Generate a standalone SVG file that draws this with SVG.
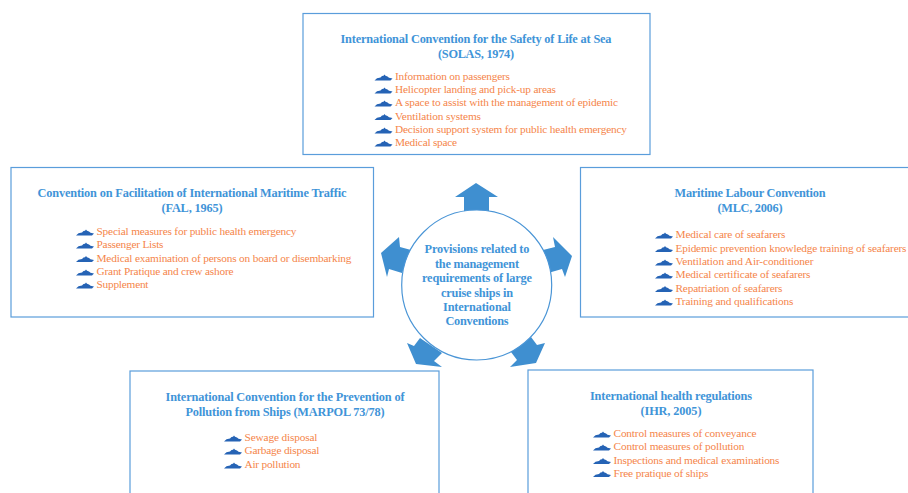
<svg xmlns="http://www.w3.org/2000/svg" width="908" height="493" viewBox="0 0 908 493">
<style>
text{font-family:"Liberation Serif","Times New Roman",serif}
.box{fill:#fff;stroke:#5a9ddb;stroke-width:1.2}
.t{font-size:12.3px;font-weight:bold;fill:#3f94d8;text-anchor:middle}
.i{font-size:11.3px;fill:#f5854a}
.arrow{fill:#3f8fd0}
.hub{fill:#fff;stroke:#4a95d6;stroke-width:1.2}
.ship{fill:#2563b5}
</style>
<defs>
<path id="ship" class="ship" d="M0 0.4L2.5 -1.8L6 -2.5L7.5 -4L9 -4.2L10 -5.6L11 -4.2L13 -3.4L14.5 -2.2L18 -1.4L16 0.5Z"/>
</defs>
<rect width="908" height="493" fill="#fff"/>
<g id="connectors">
<polygon class="arrow" points="476,183 498,197 489,197 489,212 464,212 464,197 455,197"/>
<polygon class="arrow" points="553,237 572,256 565,277 562,269 548,273 543,250 555,247"/>
<polygon class="arrow" points="399,237 381,253 387,277 389,269 402,273 411,250 400,247"/>
<polygon class="arrow" points="407,343 414,346 420,338 442,353 434,361 442,367 416,364"/>
<polygon class="arrow" points="531,337 537,345 545,343 536,363 510,367 517,360 511,352"/>
</g>
<g id="hub">
<circle class="hub" cx="476.7" cy="285" r="75"/>
<text class="t" x="477" y="253" textLength="105">Provisions related to</text>
<text class="t" x="477" y="268" textLength="84">the management</text>
<text class="t" x="477" y="282" textLength="110">requirements of large</text>
<text class="t" x="477" y="297" textLength="72">cruise ships in</text>
<text class="t" x="477" y="311" textLength="68">International</text>
<text class="t" x="477" y="325" textLength="63">Conventions</text>
</g>
<g id="solas">
<rect class="box" x="303" y="13.5" width="347" height="141"/>
<text class="t" x="476" y="43" textLength="271">International Convention for the Safety of Life at Sea</text>
<text class="t" x="476" y="58" textLength="76">(SOLAS, 1974)</text>
<use href="#ship" x="374.5" y="80"/><text class="i" x="395" y="80" textLength="115">Information on passengers</text>
<use href="#ship" x="374.5" y="93"/><text class="i" x="395" y="93" textLength="161">Helicopter landing and pick-up areas</text>
<use href="#ship" x="374.5" y="106"/><text class="i" x="395" y="106" textLength="223">A space to assist with the management of epidemic</text>
<use href="#ship" x="374.5" y="119.5"/><text class="i" x="395" y="119.5" textLength="86">Ventilation systems</text>
<use href="#ship" x="374.5" y="133"/><text class="i" x="395" y="133" textLength="232">Decision support system for public health emergency</text>
<use href="#ship" x="374.5" y="146"/><text class="i" x="395" y="146" textLength="62">Medical space</text>
</g>
<g id="fal">
<rect class="box" x="11" y="167.5" width="362.5" height="149.5"/>
<text class="t" x="192" y="197" textLength="309">Convention on Facilitation of International Maritime Traffic</text>
<text class="t" x="192" y="212" textLength="61">(FAL, 1965)</text>
<use href="#ship" x="76" y="235"/><text class="i" x="96.5" y="235" textLength="200">Special measures for public health emergency</text>
<use href="#ship" x="76" y="248"/><text class="i" x="96.5" y="248" textLength="67">Passenger Lists</text>
<use href="#ship" x="76" y="261.5"/><text class="i" x="96.5" y="261.5" textLength="255">Medical examination of persons on board or disembarking</text>
<use href="#ship" x="76" y="275"/><text class="i" x="96.5" y="275" textLength="137">Grant Pratique and crew ashore</text>
<use href="#ship" x="76" y="288"/><text class="i" x="96.5" y="288" textLength="52">Supplement</text>
</g>
<g id="mlc">
<rect class="box" x="580.5" y="167.5" width="340" height="149.5"/>
<text class="t" x="750" y="197" textLength="151">Maritime Labour Convention</text>
<text class="t" x="750" y="212" textLength="65">(MLC, 2006)</text>
<use href="#ship" x="655" y="238"/><text class="i" x="675.5" y="238" textLength="110">Medical care of seafarers</text>
<use href="#ship" x="655" y="251.5"/><text class="i" x="675.5" y="251.5" textLength="231">Epidemic prevention knowledge training of seafarers</text>
<use href="#ship" x="655" y="265"/><text class="i" x="675.5" y="265" textLength="138">Ventilation and Air-conditioner</text>
<use href="#ship" x="655" y="278"/><text class="i" x="675.5" y="278" textLength="135">Medical certificate of seafarers</text>
<use href="#ship" x="655" y="291.5"/><text class="i" x="675.5" y="291.5" textLength="107">Repatriation of seafarers</text>
<use href="#ship" x="655" y="305"/><text class="i" x="675.5" y="305" textLength="118">Training and qualifications</text>
</g>
<g id="marpol">
<rect class="box" x="130" y="371" width="309" height="140"/>
<text class="t" x="285" y="401" textLength="239">International Convention for the Prevention of</text>
<text class="t" x="285" y="416" textLength="199">Pollution from Ships (MARPOL 73/78)</text>
<use href="#ship" x="224" y="441"/><text class="i" x="244.5" y="441" textLength="73">Sewage disposal</text>
<use href="#ship" x="224" y="454"/><text class="i" x="244.5" y="454" textLength="75">Garbage disposal</text>
<use href="#ship" x="224" y="468"/><text class="i" x="244.5" y="468" textLength="56">Air pollution</text>
</g>
<g id="ihr">
<rect class="box" x="528" y="370" width="285" height="140"/>
<text class="t" x="671" y="400" textLength="162">International health regulations</text>
<text class="t" x="671" y="415" textLength="61">(IHR, 2005)</text>
<use href="#ship" x="593" y="437"/><text class="i" x="613.5" y="437" textLength="143">Control measures of conveyance</text>
<use href="#ship" x="593" y="450"/><text class="i" x="613.5" y="450" textLength="131">Control measures of pollution</text>
<use href="#ship" x="593" y="463.5"/><text class="i" x="613.5" y="463.5" textLength="166">Inspections and medical examinations</text>
<use href="#ship" x="593" y="476.5"/><text class="i" x="613.5" y="476.5" textLength="95">Free pratique of ships</text>
</g>
</svg>
